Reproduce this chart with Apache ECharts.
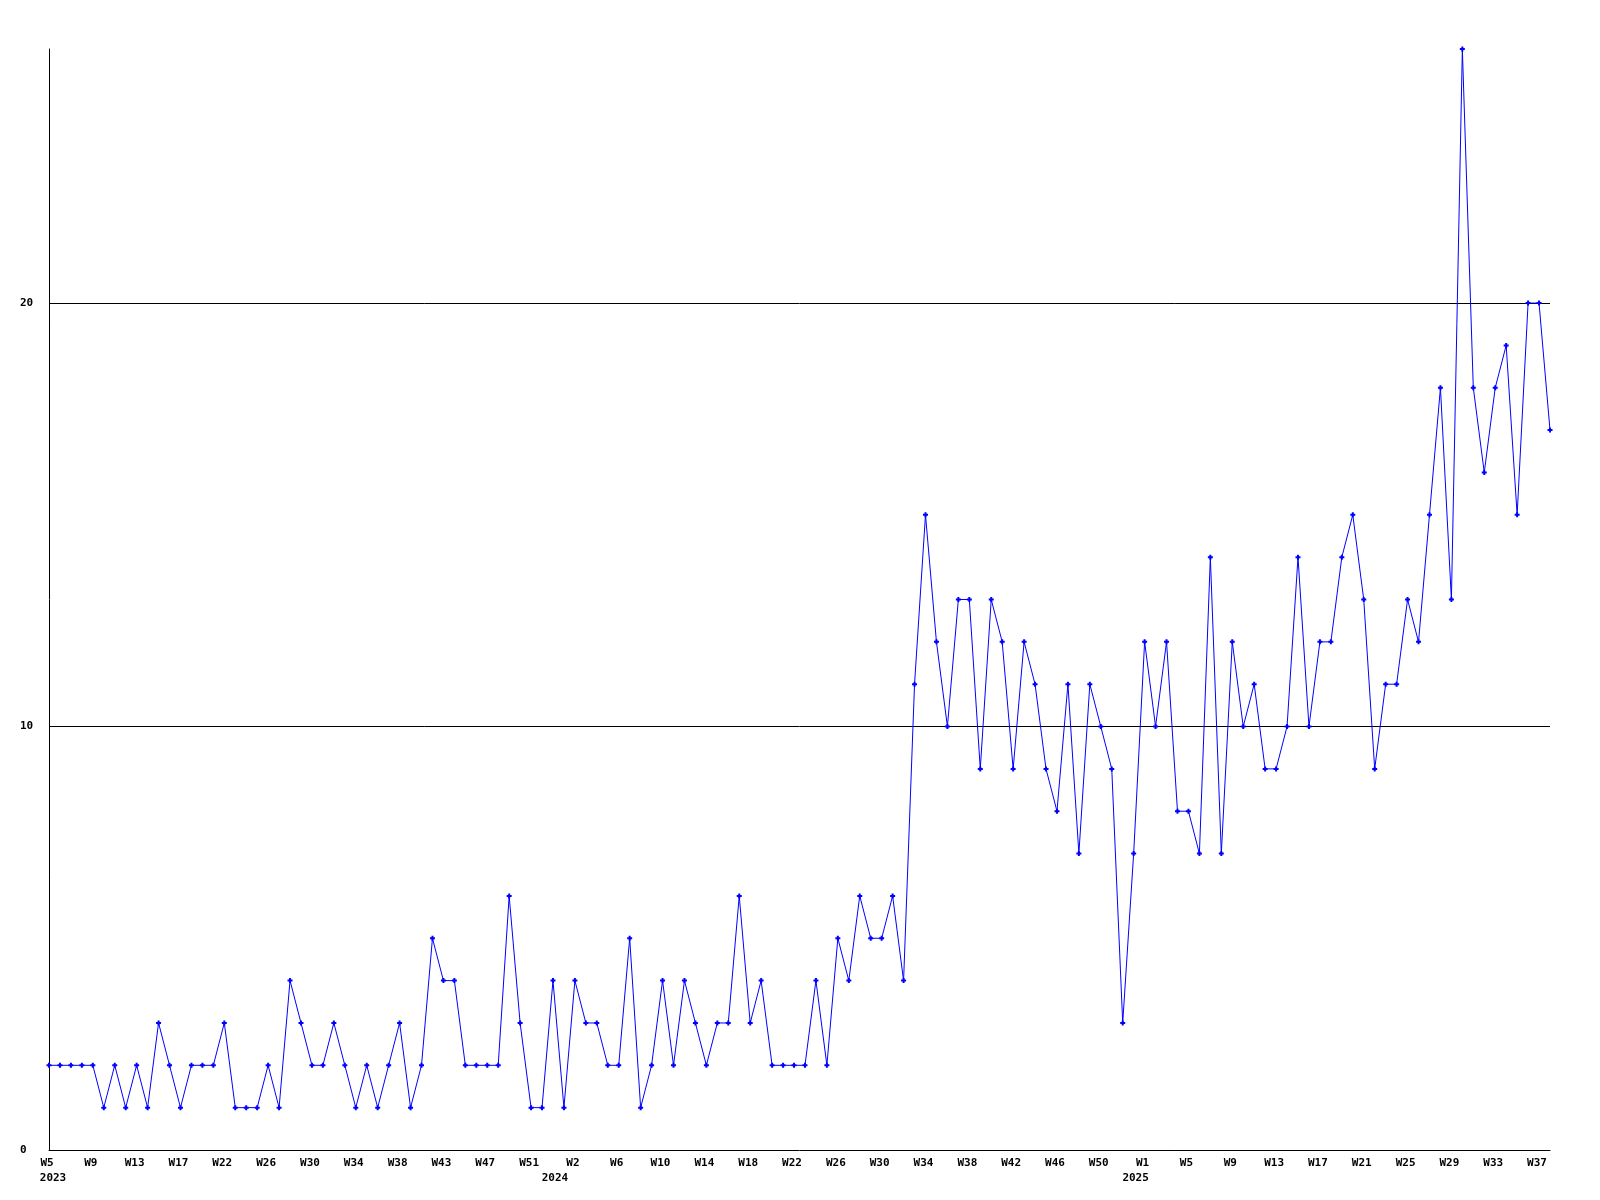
<!DOCTYPE html>
<html>
<head>
<meta charset="utf-8">
<script src="https://cdn.jsdelivr.net/npm/echarts@6/dist/echarts.min.js"></script>
<style>
html,body{margin:0;padding:0;background:#fff;}
#chart{width:1600px;height:1200px;}
</style>
</head>
<body>
<div id="chart"></div>
<script>
// Weekly values, 2023 W5 .. 2025 W38
const values2023 = [2,2,2,2,2,1,2,1,2,1,3,2,1,2,2,2,3,1,1,1,2,1,4,3,2,2,3,2,1,2,1,2,3,1,2,5,4,4,2,2,2,2,6,3,1,1,4,1];
const values2024 = [4,3,3,2,2,5,1,2,4,2,4,3,2,3,3,6,3,4,2,2,2,2,4,2,5,4,6,5,5,6,4,11,15,12,10,13,13,9,13,12,9,12,11,9,8,11,7,11,10,9,3,7];
const values2025 = [12,10,12,8,8,7,14,7,12,10,11,9,9,10,14,10,12,12,14,15,13,9,11,11,13,12,15,18,13,26,18,16,18,19,15,20,20,17];

// Tick labels shown every 4th point
const tickLabels = ["W5","W9","W13","W17","W22","W26","W30","W34","W38","W43","W47","W51",
  "W2","W6","W10","W14","W18","W22","W26","W30","W34","W38","W42","W46","W50",
  "W1","W5","W9","W13","W17","W21","W25","W29","W33","W37"];
// Year labels: tick index -> year
const yearTickIndex = [0, 12, 25];
const yearNames = ["2023", "2024", "2025"];

const yTicks = [0, 10, 20];

const values = values2023.concat(values2024, values2025);
const categories = values.map(function (v, i) {
  if (i % 4 !== 0) return "";
  const t = i / 4;
  const yi = yearTickIndex.indexOf(t);
  if (yi >= 0) return "{w|" + tickLabels[t] + "}\n{y" + yi + "|" + yearNames[yi] + "}";
  return "{w|" + tickLabels[t] + "}";
});

const font = "DejaVu Sans Mono";
const base = {fontFamily: font, fontWeight: 'bold', fontSize: 11, color: '#000', lineHeight: 15};
const chart = echarts.init(document.getElementById('chart'), null, {renderer: 'canvas'});
chart.setOption({
  animation: false,
  backgroundColor: '#ffffff',
  grid: {left: 49, right: 50, top: 49, bottom: 50, containLabel: false},
  xAxis: {
    type: 'category',
    data: categories,
    boundaryGap: false,
    axisLine: {show: true, lineStyle: {color: '#000', width: 1}},
    axisTick: {show: false},
    splitLine: {show: false},
    axisLabel: {
      interval: 3,
      margin: 6,
      color: '#000',
      fontFamily: font,
      fontWeight: 'bold',
      fontSize: 11,
      lineHeight: 15,
      rich: {
        w: Object.assign({}, base, {padding: [0,4,0,0]}),
        y0: Object.assign({}, base, {padding: [0,0,0,8]}),
        y1: Object.assign({}, base, {padding: [0,40,0,0]}),
        y2: Object.assign({}, base, {padding: [0,18,0,0]})
      }
    }
  },
  yAxis: {
    type: 'value',
    min: 0,
    max: 26,
    interval: 10,
    axisLine: {show: true, lineStyle: {color: '#000', width: 1}},
    axisTick: {show: false},
    splitLine: {show: true, showMinLine: false, showMaxLine: false, lineStyle: {color: '#000', width: 1}},
    axisLabel: {
      showMaxLabel: false,
      align: 'left',
      margin: 29,
      color: '#000',
      fontFamily: font,
      fontWeight: 'bold',
      fontSize: 11,
      formatter: function (v) { return yTicks.indexOf(v) >= 0 ? String(v) : ''; }
    }
  },
  series: [{
    type: 'line',
    data: values,
    symbol: 'path://M1.5,0H3.5V1.5H5V3.5H3.5V5H1.5V3.5H0V1.5H1.5Z',
    symbolSize: 5,
    showAllSymbol: true,
    lineStyle: {color: '#0000ff', width: 1},
    itemStyle: {color: '#0000ff', borderWidth: 0},
    emphasis: {disabled: true}
  }]
});
</script>
</body>
</html>
